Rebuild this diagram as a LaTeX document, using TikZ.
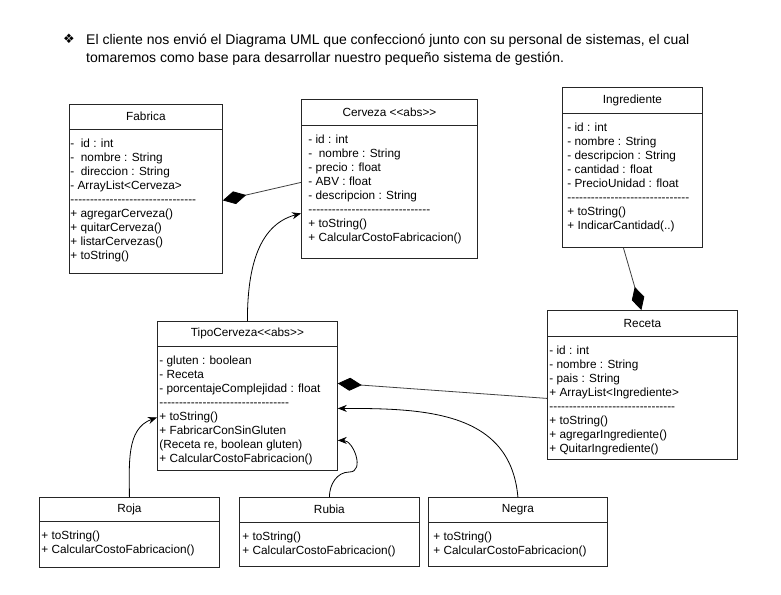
\documentclass[tikz,border=0pt]{standalone}
\usepackage{fontspec}
\setmainfont{Liberation Sans}[Ligatures=TeXOff]
\newfontfamily\symbfont{DejaVu Sans}
\usetikzlibrary{arrows.meta,positioning}

\tikzset{
  classbox/.style={draw=black!85, line width=0.8pt, rectangle, inner sep=0pt, anchor=north west},
  classhead/.style={inner sep=0pt, font=\fontsize{11.8}{14}\selectfont},
  classbody/.style={inner sep=0pt, align=left, font=\fontsize{11.8}{14}\selectfont},
  classline/.style={draw=black!85, line width=0.8pt},
  comp/.style={draw=black!75, line width=0.8pt, {Diamond[length=24pt,width=13pt,color=black]}-},
  inh/.style={draw=black, line width=0.8pt, -{Stealth[length=9pt,width=7pt]}},
}

% [inset] name, x, y, width, height, head height, title, body
\newcommand{\umlclass}[9][3]{%
  \node[classbox, minimum width=#5pt, minimum height=#6pt] (#2) at (#3,-#4) {};
  \node[classhead, minimum width=#5pt, minimum height=#7pt, anchor=north] (#2-head) at (#2.north) {#8};
  \draw[classline] (#2-head.south west) -- (#2-head.south east);
  \node[classbody, anchor=north west] (#2-body) at ([xshift=#1pt, yshift=-8pt]#2-head.south west) {\strut #9};
}

\begin{document}
\begin{tikzpicture}[x=1pt, y=1pt]
    \useasboundingbox[fill=white] (0,0) rectangle (781,-594);

    % intro text
    \node[anchor=base, inner sep=0pt, font=\symbfont\fontsize{13}{15}\selectfont] (bullet) at (69,-44) {❖};
    \node[anchor=north west, inner sep=0pt, align=left, font=\fontsize{14}{18}\selectfont] (intro) at (86,-31.4)
        {\strut El cliente nos envió el Diagrama UML que confeccionó junto con su personal de sistemas, el cual\\
         tomaremos como base para desarrollar nuestro pequeño sistema de gestión.};

    % classes
    \umlclass[1]{fab}{69}{104}{153}{169}{25}{Fabrica}
        {-~~id : int\\-~~nombre : String\\-~~direccion : String\\- ArrayList<Cerveza>\\
         --------------------------------\\+ agregarCerveza()\\+ quitarCerveza()\\+ listarCervezas()\\+ toString()}
    \umlclass[7]{cer}{301}{99}{176}{159}{26}{Cerveza <{}<abs>{}>}
        {- id : int\\-~ nombre : String\\- precio : float\\- ABV : float\\- descripcion : String\\
         -------------------------------\\+ toString()\\+ CalcularCostoFabricacion()}
    \umlclass[5]{ing}{562}{87}{140}{160}{26}{Ingrediente}
        {- id : int\\- nombre : String\\- descripcion : String\\- cantidad : float\\- PrecioUnidad : float\\
         -------------------------------\\+ toString()\\+ IndicarCantidad(..)}
    \umlclass[2]{tipo}{157}{321}{180}{149}{25}{TipoCerveza<{}<abs>{}>}
        {- gluten : boolean\\- Receta\\- porcentajeComplejidad : float\\
         ---------------------------------\\+ toString()\\+ FabricarConSinGluten\\(Receta re, boolean gluten)\\+ CalcularCostoFabricacion()}
    \umlclass[2]{rec}{547}{310}{190}{149}{26}{Receta}
        {- id : int\\- nombre : String\\- pais : String\\+ ArrayList<Ingrediente>\\
         --------------------------------\\+ toString()\\+ agregarIngrediente()\\+ QuitarIngrediente()}
    \umlclass[2]{roja}{39}{497}{180}{70}{24}{Roja}
        {+ toString()\\+ CalcularCostoFabricacion()}
    \umlclass[3]{rubia}{239}{497}{180}{69}{25}{Rubia}
        {+ toString()\\+ CalcularCostoFabricacion()}
    \umlclass[5]{negra}{428}{497}{179}{69}{25}{Negra}
        {+ toString()\\+ CalcularCostoFabricacion()}

    % composition
    \path[comp] ([yshift=-11.5pt]fab.east) -- ([yshift=-3.5pt]cer.west);
    \path[comp] ([xshift=-1pt]rec.north) -- ([xshift=-9pt]ing.south);
    \path[comp] ([yshift=12.5pt]tipo.east) -- ([yshift=-13.5pt]rec.west);

    % inheritance
    \path[inh] (tipo.north) to[out=90, in=195] ([yshift=-34.5pt]cer.west);
    \path[inh] (roja.north) to[out=90, in=200] ([yshift=-21.5pt]tipo.west);
    \path[inh] (rubia.north) to[out=90, in=180] ++(20,25) to[out=0, in=0, looseness=1.2] ([yshift=-44.5pt]tipo.east);
    \path[inh] (negra.north) to[out=95, in=0, looseness=1.1] ([yshift=-12.5pt]tipo.east);
\end{tikzpicture}
\end{document}
